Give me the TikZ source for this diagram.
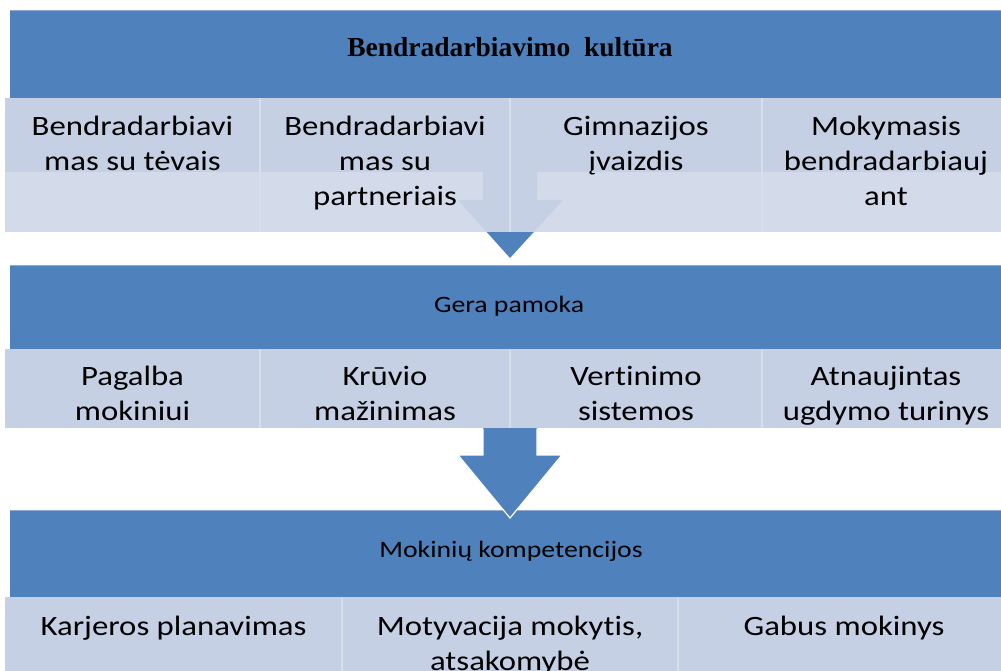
\documentclass[tikz,border=0pt]{standalone}
\usepackage{fontspec}
\setmainfont{Carlito}[Ligatures=NoCommon]
\newfontfamily\cellfont[FakeStretch=1.17,Ligatures=NoCommon]{Carlito}
\newfontfamily\headfont[FakeStretch=1.18,Ligatures=NoCommon]{Carlito}
\newfontfamily\titlefont{Liberation Serif}
\definecolor{sablue}{RGB}{79,129,189}
\definecolor{bandedge}{RGB}{140,170,212}
\definecolor{cellA}{RGB}{197,208,228}
\definecolor{cellB}{RGB}{211,218,233}
\definecolor{sepcol}{RGB}{214,221,235}
\tikzset{
  band/.style={fill=sablue},
  topedge/.style={draw=bandedge, line width=1pt},
  cellfill/.style={fill=cellA},
  stripfill/.style={fill=cellB},
  sepline/.style={draw=sepcol, line width=2.5pt},
  blockarrow/.style={fill=sablue},
  celltext/.style={anchor=north, align=center, inner sep=0pt, text=black,
    font=\cellfont\fontsize{28}{35}\selectfont},
  headtext/.style={anchor=base, inner sep=0pt, text=black,
    font=\headfont\fontsize{23.5}{28}\selectfont},
  titletext/.style={anchor=base, inner sep=0pt, text=black,
    font=\titlefont\bfseries\fontsize{27.5}{32}\selectfont}
}
\newcommand{\firstline}{\rule{0pt}{22pt}}
\begin{document}
\begin{tikzpicture}[x=1pt,y=-1pt]
\useasboundingbox (0,0) rectangle (1001,671);
\clip (0,0) rectangle (1001,671);

% ---------- Band 1 ----------
\fill[band] (10,10) rectangle (1010,98);
\draw[topedge] (10,10.5) -- (1010,10.5);
\node[titletext] (title1) at (510,57) {Bendradarbiavimo\ \ kultūra};

\fill[cellfill] (5,98) rectangle (1010,232);
\fill[stripfill] (5,172) rectangle (1010,232);
\begin{scope}
  \clip (0,150) rectangle (1010,232);
  \fill[cellfill] (483,172) -- (537,172) -- (537,200) -- (563,200) -- (510,258) -- (458,200) -- (483,200) -- cycle;
\end{scope}
\begin{scope}
  \clip (0,232) rectangle (1010,300);
  \fill[blockarrow] (483,172) -- (537,172) -- (537,200) -- (563,200) -- (510,258) -- (458,200) -- (483,200) -- cycle;
\end{scope}
\draw[sepline] (260,98) -- (260,232);
\draw[sepline] (510,98) -- (510,232);
\draw[sepline] (762,98) -- (762,232);

\begin{scope}
  \clip (5,98) rectangle (1010,232);
  \node[celltext] (c11) at (132.5,113) {\firstline Bendradarbiavi\\mas su tėvais};
  \node[celltext] (c12) at (385,113) {\firstline Bendradarbiavi\\mas su\\partneriais};
  \node[celltext] (c13) at (636,113) {\firstline Gimnazijos\\įvaizdis};
  \node[celltext] (c14) at (886,113) {\firstline Mokymasis\\bendradarbiauj\\ant};
\end{scope}

% ---------- Band 2 ----------
\fill[band] (10,265) rectangle (1010,349);
\draw[topedge] (10,265.5) -- (1010,265.5);
\node[headtext] (title2) at (509,312.5) {Gera pamoka};

\fill[cellfill] (5,349) rectangle (1010,428);
\draw[sepline] (260,349) -- (260,428);
\draw[sepline] (510,349) -- (510,428);
\draw[sepline] (762,349) -- (762,428);
\begin{scope}
  \clip (5,349) rectangle (1010,424);
  \node[celltext] (c21) at (132.5,363) {\firstline Pagalba\\mokiniui};
  \node[celltext] (c22) at (385,363) {\firstline Krūvio\\mažinimas};
  \node[celltext] (c23) at (636,363) {\firstline Vertinimo\\sistemos};
  \node[celltext] (c24) at (886,363) {\firstline Atnaujintas\\ugdymo turinys};
\end{scope}

% ---------- Band 3 ----------
\fill[band] (10,510) rectangle (1010,597);
\draw[topedge] (10,510.5) -- (1010,510.5);
\node[headtext] (title3) at (511,557.3) {Mokinių kompetencijos};

\fill[cellfill] (5,597) rectangle (1010,680);
\draw[sepline] (342,597) -- (342,680);
\draw[sepline] (678,597) -- (678,680);
\begin{scope}
  \clip (5,597) rectangle (1010,671);
  \node[celltext] (c31) at (173.5,613) {\firstline Karjeros planavimas};
  \node[celltext] (c32) at (510,613) {\firstline Motyvacija mokytis,\\atsakomybė};
  \node[celltext] (c33) at (844,613) {\firstline Gabus mokinys};
\end{scope}

% ---------- Arrow 2 (overlaps band 3) ----------
\fill[blockarrow] (483,428) -- (537,428) -- (537,455) -- (562,455) -- (510,518) -- (458,455) -- (483,455) -- cycle;
\draw[white, line width=1.2pt, line join=miter] (483,428.6) -- (483,455) -- (458,455) -- (510,518) -- (562,455) -- (537,455) -- (537,428.6);
\end{tikzpicture}
\end{document}
